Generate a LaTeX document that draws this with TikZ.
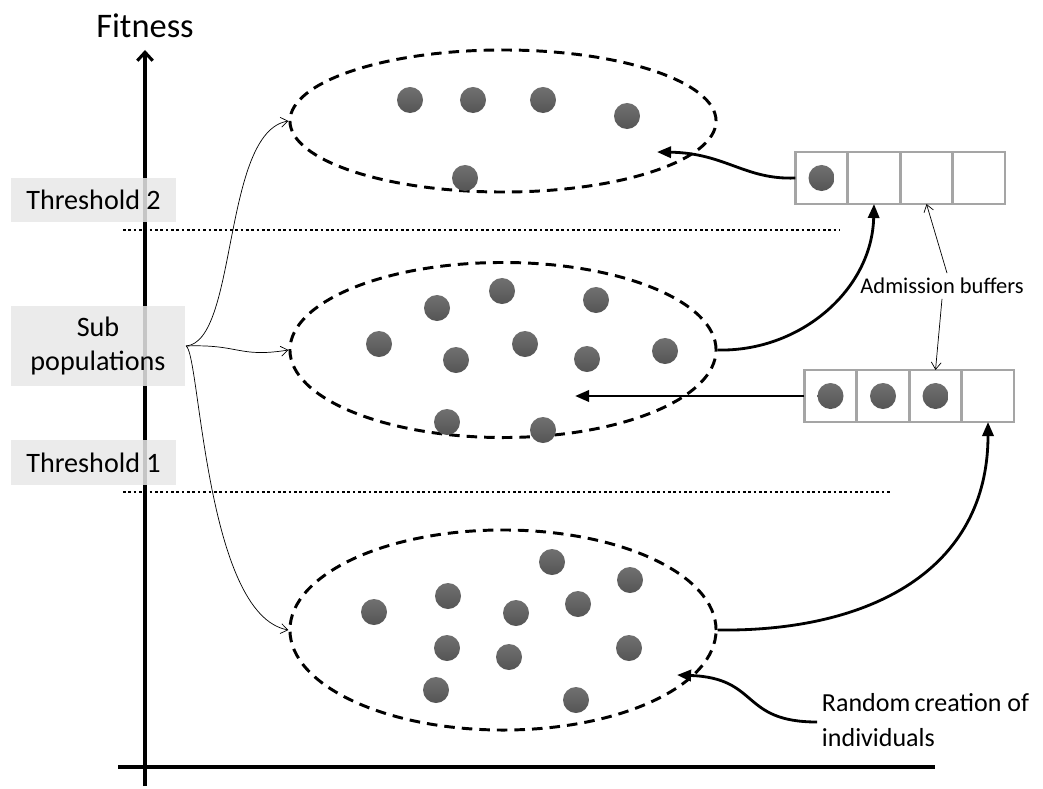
\documentclass[tikz,border=0pt]{standalone}
\usepackage{fontspec}
\setmainfont{Carlito}
\definecolor{dotgray}{RGB}{100,100,100}
\definecolor{cellgray}{RGB}{165,165,165}
\definecolor{labelgray}{RGB}{232,232,232}
\usetikzlibrary{arrows.meta}
\usetikzlibrary{positioning}
\usetikzlibrary{shapes.geometric}

\tikzset{
  pop/.style={draw, ellipse, line width=2.1pt, dash pattern=on 7.5pt off 5pt,
    minimum width=10.65cm, inner sep=0pt},
  ind/.style={circle, minimum size=0.65cm, inner sep=0pt,
    top color=dotgray!92, bottom color=dotgray!85!black},
  cell/.style={draw=cellgray, line width=1.8pt, minimum width=1.31cm,
    minimum height=1.3cm, inner sep=0pt, outer sep=0pt},
  tag/.style={fill=labelgray, fill opacity=0.85, text opacity=1,
    font=\fontsize{20}{24}\selectfont, align=center},
  feed/.style={line width=2pt, -{Triangle[length=10pt,width=8pt]}},
  thin/.style={line width=0.5pt, -{Straight Barb[length=5pt,width=7pt]}},
  level/.style={line width=1.9pt, dash pattern=on 1.9pt off 1.9pt}
}

\begin{document}
\begin{tikzpicture}[x=0.025cm, y=-0.025cm]
  \useasboundingbox (0,0) rectangle (1043,788);

  % axes
  \coordinate (xl) at (118,767);
  \coordinate (xr) at (935,767);
  \coordinate (yb) at (145,786);
  \coordinate (yt) at (145,50);
  \draw[line width=2.2pt] (xl) -- (xr);
  \draw[line width=2.2pt, -{Straight Barb[length=6pt,width=11pt,line width=2.2pt]}] (yb) -- (yt);
  \node[font=\fontsize{24.5}{28}\selectfont] (fit) at (145,26) {Fitness};

  % thresholds
  \draw[level] (123,230) -- (840,230);
  \draw[level] (123,492) -- (890,492);
  \node[tag, minimum width=4.125cm, minimum height=1.1cm] (th2) at (93.5,200) {Threshold 2};
  \node[tag, minimum width=4.35cm, minimum height=2cm, text width=4cm] (sub) at (98,346) {Sub\\populations};
  \node[tag, minimum width=4.125cm, minimum height=1.1cm] (th1) at (93.5,462.5) {Threshold 1};

  % sub populations
  \node[pop, minimum height=3.55cm] (pop2) at (503,121) {};
  \node[pop, minimum height=4.375cm] (pop1) at (503,350) {};
  \node[pop, minimum height=5cm] (pop0) at (503,630) {};

  \foreach \x/\y [count=\i] in {410/100, 473/100, 543/100, 627/116, 465/178} {
    \node[ind] (a\i) at (\x,\y) {};
  }
  \foreach \x/\y [count=\i] in {502/291, 596/300, 437/308, 379/344, 456/360, 525/344,
                                587/359, 665/351, 447/422, 543/430} {
    \node[ind] (b\i) at (\x,\y) {};
  }
  \foreach \x/\y [count=\i] in {552/562, 630/580, 448/596, 578/604, 374/612, 516/613,
                                447/648, 509/657, 629/648, 436/690, 576/700} {
    \node[ind] (c\i) at (\x,\y) {};
  }

  % admission buffers
  \foreach \k [count=\i] in {0,1,2,3} {
    \node[cell] (u\i) at (821.5+52.5*\k,178) {};
    \node[cell] (l\i) at (830.5+52.5*\k,396) {};
  }
  \node[ind] (ua) at (u1) {};
  \foreach \i in {1,2,3} {
    \node[ind] (la\i) at (l\i) {};
  }

  \node[font=\fontsize{16}{19}\selectfont] (adm) at (942,286) {Admission buffers};
  \draw[thin] (adm.north) ++(5,0) coordinate (adm1) (adm1) -- (u3.south);
  \draw[thin] (adm.south) coordinate (adm2) (adm2) -- (l3.north);

  \node[font=\fontsize{18.5}{25}\selectfont, align=left, anchor=north west] (rnd) at (817,688)
    {Random\,creation of\\individuals};

  % flow between levels
  \coordinate (in2) at (657,152);
  \coordinate (in1) at (575,396);
  \coordinate (in0) at (677,675);
  \draw[feed] (u1.west) .. controls (745,180) and (725,153) .. (in2);
  \draw[feed] (pop1.east) .. controls (800,352) and (872,290) .. (u2.south);
  \draw[feed] (l1.west) -- (in1);
  \draw[feed] (pop0.east) .. controls (870,632) and (988,570) .. (l4.south);
  \draw[feed] (rnd.west |- 0,722) coordinate (r0) (r0) .. controls (740,722) and (760,678) .. (in0);

  % labels to populations
  \coordinate (s0) at (186,346);
  \draw[thin] (s0) .. controls (238,342) and (222,132) .. (pop2.west);
  \draw[thin] (s0) .. controls (240,344) and (238,358) .. (pop1.west);
  \draw[thin] (s0) .. controls (200,352) and (205,615) .. (pop0.west);
\end{tikzpicture}
\end{document}
